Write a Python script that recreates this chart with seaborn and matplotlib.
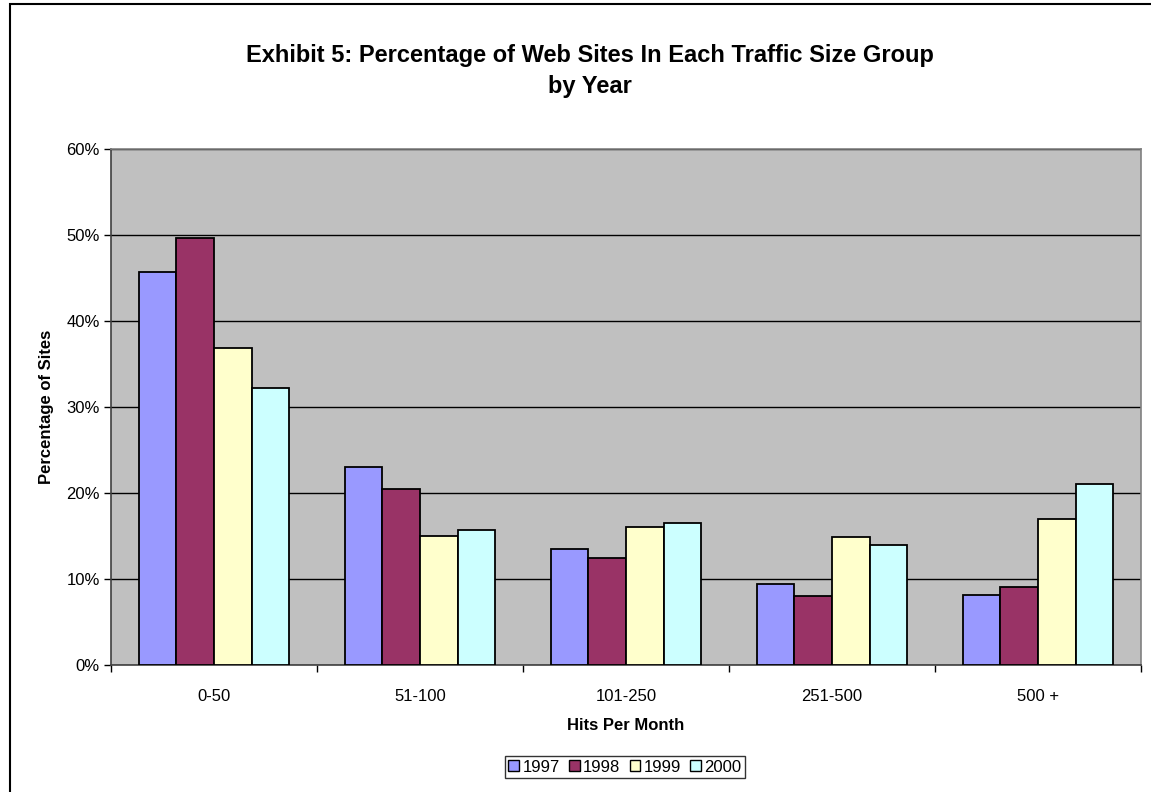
import matplotlib
matplotlib.use("Agg")
import matplotlib.pyplot as plt
from matplotlib.patches import Rectangle, Patch
from matplotlib.ticker import FixedLocator, PercentFormatter
import numpy as np
import pandas as pd
import seaborn as sns

# Share of web sites per traffic band, by survey year (percent)
groups = ["0-50", "51-100", "101-250", "251-500", "500 +"]
years = ["1997", "1998", "1999", "2000"]
pct_1997 = [45.7, 23.0, 13.5, 9.4, 8.1]
pct_1998 = [49.6, 20.5, 12.4, 8.0, 9.1]
pct_1999 = [36.9, 15.0, 16.0, 14.9, 17.0]
pct_2000 = [32.2, 15.7, 16.5, 14.0, 21.1]
year_colors = ["#9999FF", "#993366", "#FFFFCC", "#CCFFFF"]

series = [pct_1997, pct_1998, pct_1999, pct_2000]
df = pd.DataFrame({
    "Hits": [g for _ in years for g in groups],
    "Year": [y for y in years for _ in groups],
    "Pct": [v for s in series for v in s],
})

sns.set_theme(style="white")
plt.rcParams["font.family"] = ["Liberation Sans", "DejaVu Sans"]
plt.rcParams["text.color"] = "black"
plt.rcParams["axes.labelcolor"] = "black"
plt.rcParams["xtick.color"] = "black"
plt.rcParams["ytick.color"] = "black"

fig = plt.figure(figsize=(11.51, 7.92), dpi=100)
ax = fig.add_axes([111 / 1151, 1 - 665 / 792, 1030 / 1151, 516 / 792])
ax.set_facecolor("#C0C0C0")

sns.barplot(data=df, x="Hits", y="Pct", hue="Year", order=groups,
            hue_order=years, palette=year_colors, width=0.73,
            edgecolor="black", linewidth=1.3, saturation=1, ax=ax,
            legend=False, zorder=3)

ax.set_ylim(0, 60)
ax.set_xlim(-0.5, len(groups) - 0.5)
ax.yaxis.set_major_locator(FixedLocator(np.arange(0, 61, 10)))
ax.yaxis.set_major_formatter(PercentFormatter(decimals=0))
ax.grid(axis="y", color="black", linewidth=1.0, zorder=1)
ax.set_axisbelow(True)

ax.tick_params(axis="y", which="major", length=5, width=1, color="black",
               direction="out", labelsize=12, pad=3, left=True)
ax.tick_params(axis="x", which="major", length=0, labelsize=12, pad=17)
ax.xaxis.set_minor_locator(FixedLocator(np.arange(-0.5, len(groups), 1.0)))
ax.tick_params(axis="x", which="minor", length=5, width=1, color="black",
               direction="out", bottom=True)

for side in ["top", "right"]:
    ax.spines[side].set_color("#808080")
    ax.spines[side].set_linewidth(1.2)
for side in ["left", "bottom"]:
    ax.spines[side].set_color("#404040")
    ax.spines[side].set_linewidth(1.2)

ax.set_xlabel("Hits Per Month", fontsize=12, fontweight="bold", labelpad=10)
ax.set_ylabel("Percentage of Sites", fontsize=12, fontweight="bold", labelpad=9)

fig.text(590 / 1151, 1 - 71 / 792,
         "Exhibit 5: Percentage of Web Sites In Each Traffic Size Group\nby Year",
         ha="center", va="center", fontsize=17, fontweight="bold",
         linespacing=1.42)

handles = [Patch(facecolor=c, edgecolor="black", linewidth=1.0) for c in year_colors]
leg = fig.legend(handles, years, loc="center", ncol=4,
                 bbox_to_anchor=(625 / 1151, 1 - 767 / 792), fontsize=12,
                 handlelength=0.65, handleheight=0.65, handletextpad=0.2,
                 columnspacing=0.55, borderpad=0.2, frameon=True, fancybox=False)
leg.get_frame().set_edgecolor("black")
leg.get_frame().set_linewidth(1.0)

# Outer chart border
fig.add_artist(Rectangle((10 / 1151, -0.05), 1.2, 1 - 4 / 792 + 0.05,
                         transform=fig.transFigure, fill=False,
                         edgecolor="black", linewidth=1.5))

fig.savefig("out.png", dpi=100)
